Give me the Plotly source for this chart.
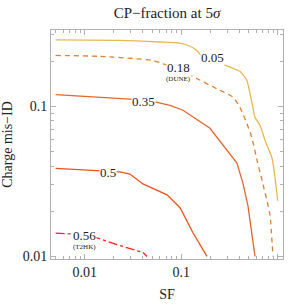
import plotly.graph_objects as go
import math

# contour 0.05
sf_005 = [0.005, 0.023, 0.06, 0.097, 0.125, 0.145, 0.168, 0.214, 0.271, 0.35, 0.406, 0.478,
          0.516, 0.542, 0.582, 0.656, 0.738, 0.873, 0.937, 1.0]
cid_005 = [0.277, 0.275, 0.268, 0.263, 0.250, 0.235, 0.212, 0.196, 0.190, 0.178, 0.171, 0.149,
           0.122, 0.105, 0.0845, 0.0748, 0.0595, 0.0452, 0.0338, 0.0235]
# contour 0.18 (DUNE)
sf_018 = [0.005, 0.0144, 0.0511, 0.0647, 0.0927, 0.145, 0.233, 0.344, 0.406, 0.478, 0.538,
          0.610, 0.687, 0.792, 0.832, 0.893]
cid_018 = [0.218, 0.215, 0.2018, 0.192, 0.176, 0.153, 0.131, 0.115, 0.0985, 0.0771, 0.0623,
           0.0438, 0.0323, 0.0220, 0.0189, 0.0100]
# contour 0.35
sf_035 = [0.005, 0.0294, 0.0422, 0.0561, 0.0766, 0.1044, 0.1987, 0.2984, 0.378, 0.436, 0.492, 0.582]
cid_035 = [0.1196, 0.1117, 0.1087, 0.1063, 0.1015, 0.0941, 0.0714, 0.0511, 0.0419, 0.0308, 0.0217, 0.0100]
# contour 0.5
sf_05 = [0.005, 0.0144, 0.0174, 0.0232, 0.0294, 0.0402, 0.0713, 0.0973, 0.1324, 0.185]
cid_05 = [0.0386, 0.0372, 0.0367, 0.0366, 0.0354, 0.0304, 0.0257, 0.0211, 0.01437, 0.0100]
# contour 0.56 (T2HK)
sf_056 = [0.005, 0.00739, 0.0100, 0.0134, 0.0216, 0.0402, 0.0442]
cid_056 = [0.0143, 0.0141, 0.0137, 0.0133, 0.01197, 0.01063, 0.0100]

x_major = [0.01, 0.1, 1]
x_major_text = ["0.01", "0.1", ""]
y_major = [0.01, 0.1]
y_major_text = ["0.01", "0.1"]
x_minor = [m * d for d in (0.001, 0.01, 0.1) for m in range(2, 10)] + [2]
y_minor = [m * d for d in (0.01, 0.1) for m in range(2, 10)]

serif = "Liberation Serif, Times New Roman, serif"

fig = go.Figure()
fig.add_trace(go.Scatter(x=sf_005, y=cid_005, mode="lines",
                         line=dict(color="#e6b94e", width=1.3, shape="spline", smoothing=0.6)))
fig.add_trace(go.Scatter(x=sf_018, y=cid_018, mode="lines",
                         line=dict(color="#d98236", width=1.3, dash="5px,4px", shape="spline", smoothing=0.6)))
fig.add_trace(go.Scatter(x=sf_035, y=cid_035, mode="lines",
                         line=dict(color="#e0672e", width=1.3)))
fig.add_trace(go.Scatter(x=sf_05, y=cid_05, mode="lines",
                         line=dict(color="#ea531c", width=1.3)))
fig.add_trace(go.Scatter(x=sf_056, y=cid_056, mode="lines",
                         line=dict(color="#ff1f1f", width=1.3, dash="dashdot")))

def lab(x, y, text, size):
    fig.add_annotation(x=math.log10(x), y=math.log10(y), text=text, showarrow=False,
                       font=dict(family=serif, size=size, color="#222"),
                       bgcolor="white", borderpad=0)

lab(0.21, 0.211, "0.05", 13)
lab(0.0927, 0.1816, "0.18", 13)
lab(0.0927, 0.153, "(DUNE)", 7)
lab(0.041, 0.108, "0.35", 13)
lab(0.0174, 0.0365, "0.5", 13)
lab(0.0100, 0.0137, "0.56", 13)
lab(0.0100, 0.0116, "(T2HK)", 7)

axis_common = dict(
    type="log", showgrid=False, zeroline=False, showline=True, linecolor="#b0b0b0",
    linewidth=1, mirror="allticks", ticks="inside", ticklen=5, tickcolor="#b0b0b0",
    tickfont=dict(family=serif, size=14, color="#222"), automargin=False,
)

fig.update_layout(
    width=291, height=307,
    margin=dict(l=51, r=8, t=29.5, b=48),
    plot_bgcolor="white", paper_bgcolor="white",
    showlegend=False,
    title=dict(text="CP−fraction at 5<i>σ</i>", x=(51 + 283) / 2 / 291, xanchor="center",
               y=1 - 13 / 307, yanchor="middle", yref="container",
               font=dict(family=serif, size=15, color="#222")),
    xaxis=dict(axis_common, range=[-2.349, 0.055], tickvals=x_major, ticktext=x_major_text,
               minor=dict(tickvals=x_minor, ticks="inside", ticklen=3, tickcolor="#b0b0b0"),
               title=dict(text="SF", standoff=10, font=dict(family=serif, size=14, color="#222"))),
    yaxis=dict(axis_common, range=[-2.017, -0.492], tickvals=y_major, ticktext=y_major_text,
               minor=dict(tickvals=y_minor, ticks="inside", ticklen=3, tickcolor="#b0b0b0"),
               title=dict(text="Charge mis−ID", standoff=8, font=dict(family=serif, size=14, color="#222"))),
)

fig.write_html("out.html", config={"displayModeBar": False},
               post_script="document.body.style.margin='0';document.body.style.overflow='hidden';")
